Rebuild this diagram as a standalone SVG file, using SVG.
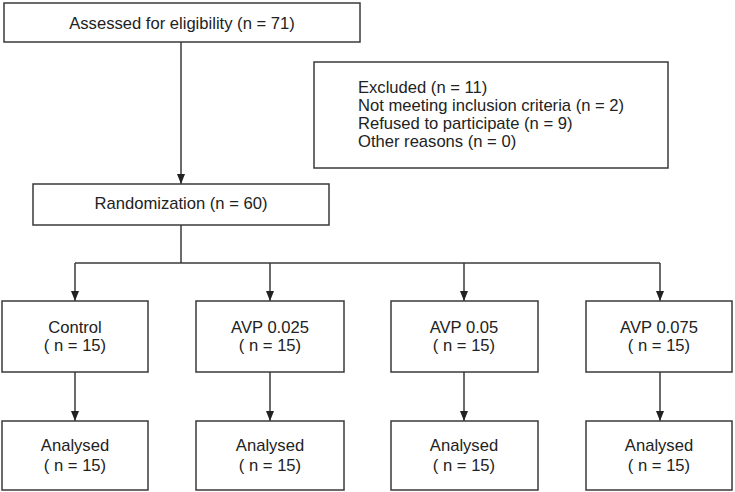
<svg xmlns="http://www.w3.org/2000/svg" width="735" height="492" viewBox="0 0 735 492">
<style>
.box{fill:#fff;stroke:#3a3a3a;stroke-width:1.5}
.ln{fill:none;stroke:#3a3a3a;stroke-width:1.5}
text{font-family:"Liberation Sans",Arial,sans-serif;font-size:16.6px;fill:#222}
.c{text-anchor:middle}
</style>
<defs>
<marker id="ah" viewBox="0 0 10 8" refX="10" refY="4" markerWidth="10" markerHeight="8" markerUnits="userSpaceOnUse" orient="auto">
<path d="M0,0 L10,4 L0,8 Z" fill="#222"/>
</marker>
</defs>
<rect width="735" height="492" fill="#fff"/>
<g id="connectors">
<line class="ln" x1="181" y1="42" x2="181" y2="184" marker-end="url(#ah)"/>
<line class="ln" x1="181" y1="225" x2="181" y2="263"/>
<line class="ln" x1="75" y1="263" x2="660" y2="263"/>
<line class="ln" x1="75" y1="263" x2="75" y2="301" marker-end="url(#ah)"/>
<line class="ln" x1="270" y1="263" x2="270" y2="301" marker-end="url(#ah)"/>
<line class="ln" x1="464" y1="263" x2="464" y2="301" marker-end="url(#ah)"/>
<line class="ln" x1="660" y1="263" x2="660" y2="301" marker-end="url(#ah)"/>
<line class="ln" x1="75" y1="372" x2="75" y2="421" marker-end="url(#ah)"/>
<line class="ln" x1="270" y1="372" x2="270" y2="421" marker-end="url(#ah)"/>
<line class="ln" x1="464" y1="372" x2="464" y2="421" marker-end="url(#ah)"/>
<line class="ln" x1="660" y1="372" x2="660" y2="421" marker-end="url(#ah)"/>
</g>
<g id="assessed">
<rect class="box" x="4" y="3" width="356" height="39"/>
<text class="c" x="182" y="28.5">Assessed for eligibility (n = 71)</text>
</g>
<g id="excluded">
<rect class="box" x="314" y="62" width="354" height="106"/>
<text x="358" y="92.5">Excluded (n = 11)</text>
<text x="358" y="110.5">Not meeting inclusion criteria (n = 2)</text>
<text x="358" y="128.5">Refused to participate (n = 9)</text>
<text x="358" y="146.5">Other reasons (n = 0)</text>
</g>
<g id="randomization">
<rect class="box" x="33" y="184" width="296" height="41"/>
<text class="c" x="181" y="209">Randomization (n = 60)</text>
</g>
<g id="control">
<rect class="box" x="2" y="301" width="146" height="71"/>
<text class="c" x="75" y="333">Control</text>
<text class="c" x="75" y="351">( n = 15)</text>
</g>
<g id="avp025">
<rect class="box" x="196" y="301" width="148" height="71"/>
<text class="c" x="270" y="333">AVP 0.025</text>
<text class="c" x="270" y="351">( n = 15)</text>
</g>
<g id="avp05">
<rect class="box" x="391" y="301" width="147" height="71"/>
<text class="c" x="464" y="333">AVP 0.05</text>
<text class="c" x="464" y="351">( n = 15)</text>
</g>
<g id="avp075">
<rect class="box" x="586" y="301" width="146" height="71"/>
<text class="c" x="659" y="333">AVP 0.075</text>
<text class="c" x="659" y="351">( n = 15)</text>
</g>
<g id="analysed1">
<rect class="box" x="2" y="421" width="146" height="69"/>
<text class="c" x="75" y="451">Analysed</text>
<text class="c" x="75" y="471">( n = 15)</text>
</g>
<g id="analysed2">
<rect class="box" x="196" y="421" width="148" height="69"/>
<text class="c" x="270" y="451">Analysed</text>
<text class="c" x="270" y="471">( n = 15)</text>
</g>
<g id="analysed3">
<rect class="box" x="391" y="421" width="147" height="69"/>
<text class="c" x="464" y="451">Analysed</text>
<text class="c" x="464" y="471">( n = 15)</text>
</g>
<g id="analysed4">
<rect class="box" x="586" y="421" width="146" height="69"/>
<text class="c" x="659" y="451">Analysed</text>
<text class="c" x="659" y="471">( n = 15)</text>
</g>
</svg>
